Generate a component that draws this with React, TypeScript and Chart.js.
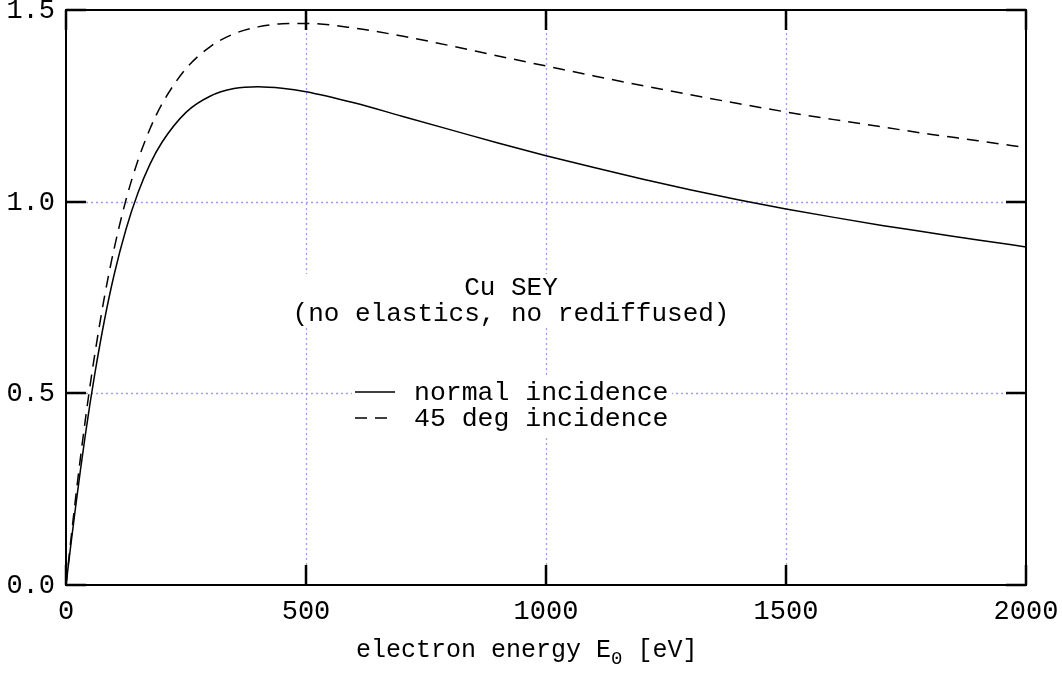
import { useEffect, useRef } from "react";
import { Chart, registerables } from "chart.js";

Chart.register(...registerables);

// ---- data ----
const energies = [0, 10, 20, 30, 40, 50, 60, 80, 100, 125, 150, 175, 200, 250, 300, 350, 400, 450, 500, 600, 700, 800, 900, 1000, 1100, 1200, 1300, 1400, 1500, 1600, 1700, 1800, 1900, 2000];
const seyNormal = [0, 0.104, 0.204, 0.299, 0.389, 0.473, 0.551, 0.69, 0.808, 0.928, 1.023, 1.098, 1.155, 1.233, 1.275, 1.295, 1.3, 1.296, 1.287, 1.258, 1.223, 1.188, 1.153, 1.12, 1.089, 1.059, 1.031, 1.005, 0.981, 0.959, 0.938, 0.919, 0.9, 0.882];
const sey45 = [0, 0.116, 0.227, 0.331, 0.428, 0.519, 0.602, 0.751, 0.876, 1.005, 1.108, 1.19, 1.255, 1.347, 1.404, 1.438, 1.456, 1.464, 1.465, 1.453, 1.432, 1.407, 1.38, 1.354, 1.328, 1.303, 1.279, 1.256, 1.234, 1.214, 1.195, 1.176, 1.159, 1.141];

const xTicks = [0, 500, 1000, 1500, 2000];
const xTickLabels = ["0", "500", "1000", "1500", "2000"];
const yTicks = [0, 0.5, 1.0, 1.5];
const yTickLabels = ["0.0", "0.5", "1.0", "1.5"];
const seriesLabels = ["normal incidence", "45 deg incidence"];
const noteLines = ["Cu SEY", "(no elastics, no rediffused)"];
const xTitleMain = "electron energy E";
const xTitleSub = "0";
const xTitleEnd = " [eV]";

const FONT = '"Liberation Mono", "DejaVu Sans Mono", monospace';
const GRID_COLOR = "#9c9cf4";
const DASH = [12, 8];

const framePlugin = {
  id: "frame",
  beforeDatasetsDraw(chart: any) {
    const { ctx, chartArea: a, scales } = chart;
    const x = scales.x;
    const y = scales.y;
    ctx.save();
    ctx.strokeStyle = GRID_COLOR;
    ctx.lineWidth = 1.3;
    ctx.setLineDash([2, 3]);
    for (const v of xTicks) {
      const px = Math.round(x.getPixelForValue(v)) + 0.5;
      if (px <= a.left + 2 || px >= a.right - 2) continue;
      ctx.beginPath();
      ctx.moveTo(px, a.bottom);
      ctx.lineTo(px, a.top);
      ctx.stroke();
    }
    for (const v of yTicks) {
      const py = Math.round(y.getPixelForValue(v)) + 0.5;
      if (py <= a.top + 2 || py >= a.bottom - 2) continue;
      ctx.beginPath();
      ctx.moveTo(a.left, py);
      ctx.lineTo(a.right, py);
      ctx.stroke();
    }
    ctx.setLineDash([]);
    // opaque backgrounds behind the note and the key
    ctx.fillStyle = "#ffffff";
    ctx.fillRect(285, 274, 455, 53);
    ctx.fillRect(352, 377, 320, 61);
    ctx.restore();
  },
  afterDatasetsDraw(chart: any) {
    const { ctx, chartArea: a, scales } = chart;
    const x = scales.x;
    const y = scales.y;
    ctx.save();
    ctx.setLineDash([]);
    ctx.strokeStyle = "#000";
    ctx.lineWidth = 2;
    ctx.strokeRect(a.left, a.top, a.right - a.left, a.bottom - a.top);
    // inward ticks
    ctx.lineWidth = 2.5;
    ctx.beginPath();
    for (const v of xTicks) {
      const px = Math.round(x.getPixelForValue(v));
      ctx.moveTo(px, a.bottom);
      ctx.lineTo(px, a.bottom - 20);
      ctx.moveTo(px, a.top);
      ctx.lineTo(px, a.top + 20);
    }
    for (const v of yTicks) {
      const py = Math.round(y.getPixelForValue(v));
      ctx.moveTo(a.left, py);
      ctx.lineTo(a.left + 20, py);
      ctx.moveTo(a.right, py);
      ctx.lineTo(a.right - 20, py);
    }
    ctx.stroke();

    // tick labels
    ctx.fillStyle = "#000";
    ctx.font = `27px ${FONT}`;
    ctx.textBaseline = "middle";
    ctx.textAlign = "center";
    xTicks.forEach((v, i) => {
      ctx.fillText(xTickLabels[i], x.getPixelForValue(v), a.bottom + 27);
    });
    ctx.textAlign = "right";
    yTicks.forEach((v, i) => {
      ctx.fillText(yTickLabels[i], a.left - 11, y.getPixelForValue(v) + 1);
    });

    // note
    ctx.font = `26px ${FONT}`;
    ctx.textAlign = "center";
    ctx.fillText(noteLines[0], 511, 288);
    ctx.fillText(noteLines[1], 511, 314);

    // key
    ctx.font = `26.5px ${FONT}`;
    ctx.textAlign = "left";
    ctx.fillText(seriesLabels[0], 414, 393);
    ctx.fillText(seriesLabels[1], 414, 419);
    ctx.lineWidth = 1.5;
    ctx.beginPath();
    ctx.moveTo(355, 392);
    ctx.lineTo(395, 392);
    ctx.stroke();
    ctx.setLineDash(DASH);
    ctx.beginPath();
    ctx.moveTo(355, 418);
    ctx.lineTo(395, 418);
    ctx.stroke();
    ctx.setLineDash([]);

    // x axis title with subscript
    ctx.textBaseline = "alphabetic";
    ctx.textAlign = "left";
    ctx.font = `25px ${FONT}`;
    let tx = 356;
    ctx.fillText(xTitleMain, tx, 657);
    tx += ctx.measureText(xTitleMain).width;
    ctx.font = `19px ${FONT}`;
    ctx.fillText(xTitleSub, tx, 664);
    tx += ctx.measureText(xTitleSub).width;
    ctx.font = `25px ${FONT}`;
    ctx.fillText(xTitleEnd, tx, 657);
    ctx.restore();
  },
};

export default function App() {
  const ref = useRef<HTMLCanvasElement | null>(null);
  useEffect(() => {
    if (!ref.current) return;
    const chart = new Chart(ref.current, {
      type: "line",
      data: {
        datasets: [
          {
            label: seriesLabels[0],
            data: energies.map((e, i) => ({ x: e, y: seyNormal[i] })),
            borderColor: "#000",
            borderWidth: 1.5,
            pointRadius: 0,
            fill: false,
            cubicInterpolationMode: "monotone",
          },
          {
            label: seriesLabels[1],
            data: energies.map((e, i) => ({ x: e, y: sey45[i] })),
            borderColor: "#000",
            borderWidth: 1.5,
            borderDash: DASH,
            pointRadius: 0,
            fill: false,
            cubicInterpolationMode: "monotone",
          },
        ],
      },
      options: {
        animation: false,
        responsive: false,
        devicePixelRatio: 1,
        layout: { padding: { left: 66, right: 36, top: 10, bottom: 92 } },
        plugins: { legend: { display: false }, tooltip: { enabled: false } },
        events: [],
        scales: {
          x: { type: "linear", min: 0, max: 2000, display: false },
          y: { type: "linear", min: 0, max: 1.5, display: false },
        },
      },
      plugins: [framePlugin],
    } as any);
    return () => chart.destroy();
  }, []);
  return (
    <div style={{ position: "absolute", left: 0, top: 0, width: 1062, height: 677, background: "#fff" }}>
      <canvas ref={ref} width={1062} height={677} style={{ display: "block" }} />
    </div>
  );
}
